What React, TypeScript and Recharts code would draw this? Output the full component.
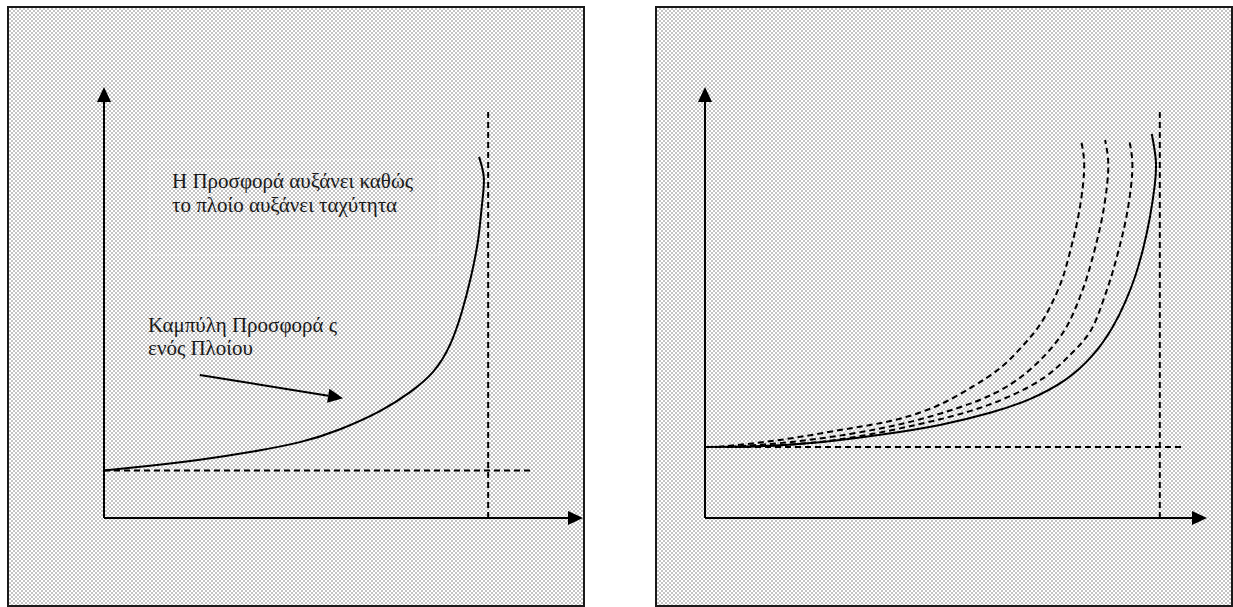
import React from 'react';
import { LineChart, Line, XAxis, YAxis, ReferenceLine, ReferenceDot, ReferenceArea } from 'recharts';

// left panel: supply curve of one ship (speed 0..100, supply 0..100)
const curvaUmNavio = [
  { x: 0, y: 11 },
  { x: 9.6, y: 12.1 },
  { x: 20, y: 13.5 },
  { x: 30.5, y: 15.3 },
  { x: 40.9, y: 17.6 },
  { x: 49.3, y: 20.6 },
  { x: 57.6, y: 24.8 },
  { x: 63.9, y: 29.2 },
  { x: 68.7, y: 33.9 },
  { x: 72.2, y: 40.1 },
  { x: 74.7, y: 47.8 },
  { x: 76.6, y: 55.9 },
  { x: 78.1, y: 64.5 },
  { x: 78.9, y: 72.6 },
  { x: 79.3, y: 78.9 },
  { x: 78.3, y: 83.8 },
];

// right panel: the solid curve and three shifted dashed curves
const curvaSolida = [
  { x: 0, y: 16.5 },
  { x: 11, y: 16.7 },
  { x: 22.9, y: 17.6 },
  { x: 34.9, y: 19.3 },
  { x: 46.8, y: 21.6 },
  { x: 56.8, y: 24.4 },
  { x: 64.7, y: 27.6 },
  { x: 71.7, y: 32 },
  { x: 77.1, y: 37.6 },
  { x: 81.1, y: 44.1 },
  { x: 83.7, y: 50.1 },
  { x: 85.7, y: 56.1 },
  { x: 87.3, y: 62.6 },
  { x: 88.6, y: 69.6 },
  { x: 89.6, y: 77.3 },
  { x: 89.8, y: 83.1 },
  { x: 89, y: 89.1 },
];

const curvaTracejada3 = [
  { x: 7, y: 16.5 },
  { x: 18.9, y: 17.2 },
  { x: 30.9, y: 19 },
  { x: 42.8, y: 21.8 },
  { x: 52.8, y: 24.8 },
  { x: 60.8, y: 28.3 },
  { x: 67.7, y: 32.7 },
  { x: 72.7, y: 37.8 },
  { x: 76.7, y: 43.2 },
  { x: 79.1, y: 49.7 },
  { x: 80.9, y: 55.9 },
  { x: 82.5, y: 62.6 },
  { x: 83.9, y: 69.6 },
  { x: 84.9, y: 77.3 },
  { x: 85.1, y: 83.1 },
  { x: 84.5, y: 87.7 },
];

const curvaTracejada2 = [
  { x: 5, y: 16.5 },
  { x: 16.9, y: 17.6 },
  { x: 28.9, y: 19.5 },
  { x: 39.8, y: 22 },
  { x: 49.8, y: 25.3 },
  { x: 57.8, y: 29 },
  { x: 63.7, y: 33.4 },
  { x: 68.3, y: 38.5 },
  { x: 71.9, y: 44.1 },
  { x: 74.3, y: 50.1 },
  { x: 76.1, y: 55.9 },
  { x: 77.7, y: 62.6 },
  { x: 79.1, y: 69.6 },
  { x: 80.1, y: 77.3 },
  { x: 80.3, y: 83.1 },
  { x: 79.7, y: 87.7 },
];

const curvaTracejada1 = [
  { x: 2.6, y: 16.5 },
  { x: 14.9, y: 18.1 },
  { x: 26.9, y: 20.4 },
  { x: 36.9, y: 22.5 },
  { x: 45.8, y: 25.8 },
  { x: 53.2, y: 30.4 },
  { x: 58.8, y: 34.8 },
  { x: 63.1, y: 39.7 },
  { x: 66.7, y: 44.8 },
  { x: 69.3, y: 50.3 },
  { x: 71.3, y: 55.9 },
  { x: 72.9, y: 62.6 },
  { x: 74.3, y: 69.6 },
  { x: 75.3, y: 77.3 },
  { x: 75.5, y: 83.1 },
  { x: 74.9, y: 87.7 },
];

// annotations (text lines and the pointer arrow), in data units
const textoTopo = [
  { x: 14.2, y: 76.6, texto: 'Η Προσφορά αυξάνει καθώς' },
  { x: 14.2, y: 71.0, texto: 'το πλοίο αυξάνει ταχύτητα' },
];
const textoCurva = [
  { x: 9.2, y: 43.2, texto: 'Καμπύλη Προσφορά ς' },
  { x: 9.2, y: 37.8, texto: 'ενός Πλοίου' },
];
const setaCurva = [{ x: 20, y: 33.2 }, { x: 49.9, y: 27.8 }];

const limiteEsq = { minY: 11, fimMinY: 89.1, maxX: 80.2, fimMaxX: 94.7 };
const limiteDir = { minY: 16.5, fimMinY: 95.6, maxX: 90.6, fimMaxX: 94.7 };

const fonte = '"Liberation Serif", "Times New Roman", serif';

// linha com ponta de seta
const Seta = (props: any) => {
  const { x1, y1, x2, y2 } = props;
  const ang = Math.atan2(y2 - y1, x2 - x1);
  const len = 15;
  const half = 7;
  const bx = x2 - len * Math.cos(ang);
  const by = y2 - len * Math.sin(ang);
  const px = -Math.sin(ang) * half;
  const py = Math.cos(ang) * half;
  return (
    <g>
      <line x1={x1} y1={y1} x2={bx} y2={by} stroke="#000" strokeWidth={2} />
      <polygon points={`${x2},${y2} ${bx + px},${by + py} ${bx - px},${by - py}`} fill="#000" />
    </g>
  );
};

const Texto = (texto: string) => (p: any) => (
  <text x={p.cx} y={p.cy} fontFamily={fonte} fontSize={21} fill="#1a1a1a">
    {texto}
  </text>
);

const painel: React.CSSProperties = {
  position: 'absolute',
  top: 6,
  width: 574,
  height: 597,
  border: '2px solid #1a1a1a',
  backgroundColor: '#fff',
  backgroundImage: 'repeating-conic-gradient(#c4c4c4 0% 25%, #ffffff 0% 50%)',
  backgroundSize: '4px 4px',
};

const tracejado = { stroke: '#000', strokeWidth: 2, strokeDasharray: '6 4' };

export default function App() {
  return (
    <div style={{ position: 'absolute', left: 0, top: 0, width: 1233, height: 607, background: '#fff', overflow: 'hidden' }}>
      <div style={{ ...painel, left: 7 }} />
      <div style={{ ...painel, left: 655 }} />

      <div style={{ position: 'absolute', left: 0, top: 0 }}>
        <LineChart width={600} height={607} margin={{ top: 87, right: 17, bottom: 89, left: 104 }}>
          <XAxis dataKey="x" type="number" domain={[0, 100]} hide allowDataOverflow />
          <YAxis dataKey="y" type="number" domain={[0, 100]} hide allowDataOverflow />
          <ReferenceArea x1={9.6} x2={70.1} y1={61} y2={83.1} fill="none" stroke="#ffffff" strokeOpacity={0.8} strokeDasharray="1 1" />
          <ReferenceLine segment={[{ x: 0, y: limiteEsq.minY }, { x: limiteEsq.fimMinY, y: limiteEsq.minY }]} {...tracejado} />
          <ReferenceLine segment={[{ x: limiteEsq.maxX, y: 0 }, { x: limiteEsq.maxX, y: limiteEsq.fimMaxX }]} {...tracejado} />
          <ReferenceLine segment={[{ x: 0, y: 0 }, { x: 0, y: 100 }]} shape={Seta} />
          <ReferenceLine segment={[{ x: 0, y: 0 }, { x: 100, y: 0 }]} shape={Seta} />
          <ReferenceLine segment={setaCurva} shape={Seta} />
          <Line data={curvaUmNavio} dataKey="y" type="natural" stroke="#000" strokeWidth={2} dot={false} activeDot={false} isAnimationActive={false} />
          {[...textoTopo, ...textoCurva].map((t) => (
            <ReferenceDot key={t.texto} x={t.x} y={t.y} r={0} shape={Texto(t.texto)} />
          ))}
        </LineChart>
      </div>

      <div style={{ position: 'absolute', left: 620, top: 0 }}>
        <LineChart width={613} height={607} margin={{ top: 87, right: 26, bottom: 89, left: 85 }}>
          <XAxis dataKey="x" type="number" domain={[0, 100]} hide allowDataOverflow />
          <YAxis dataKey="y" type="number" domain={[0, 100]} hide allowDataOverflow />
          <ReferenceLine segment={[{ x: 0, y: limiteDir.minY }, { x: limiteDir.fimMinY, y: limiteDir.minY }]} {...tracejado} />
          <ReferenceLine segment={[{ x: limiteDir.maxX, y: 0 }, { x: limiteDir.maxX, y: limiteDir.fimMaxX }]} {...tracejado} />
          <ReferenceLine segment={[{ x: 0, y: 0 }, { x: 0, y: 100 }]} shape={Seta} />
          <ReferenceLine segment={[{ x: 0, y: 0 }, { x: 100, y: 0 }]} shape={Seta} />
          <Line data={curvaTracejada1} dataKey="y" type="natural" stroke="#000" strokeWidth={2} strokeDasharray="6 4" dot={false} activeDot={false} isAnimationActive={false} />
          <Line data={curvaTracejada2} dataKey="y" type="natural" stroke="#000" strokeWidth={2} strokeDasharray="6 4" dot={false} activeDot={false} isAnimationActive={false} />
          <Line data={curvaTracejada3} dataKey="y" type="natural" stroke="#000" strokeWidth={2} strokeDasharray="6 4" dot={false} activeDot={false} isAnimationActive={false} />
          <Line data={curvaSolida} dataKey="y" type="natural" stroke="#000" strokeWidth={2} dot={false} activeDot={false} isAnimationActive={false} />
        </LineChart>
      </div>
    </div>
  );
}
